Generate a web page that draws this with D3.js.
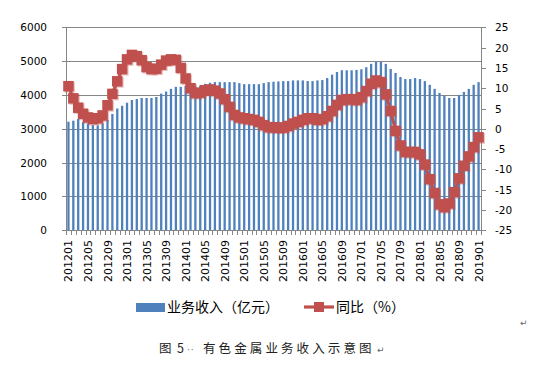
<!DOCTYPE html>
<html><head><meta charset="utf-8">
<script src="https://cdn.jsdelivr.net/npm/d3@7/dist/d3.min.js"></script>
<style>
html,body{margin:0;padding:0;background:#fff;}
svg{display:block;}
</style></head>
<body><svg id="c" width="540" height="366"></svg>
<script>
const categories = [
"201201","201202","201203","201204","201205","201206","201207","201208","201209","201210","201211","201212",
"201301","201302","201303","201304","201305","201306","201307","201308","201309","201310","201311","201312",
"201401","201402","201403","201404","201405","201406","201407","201408","201409","201410","201411","201412",
"201501","201502","201503","201504","201505","201506","201507","201508","201509","201510","201511","201512",
"201601","201602","201603","201604","201605","201606","201607","201608","201609","201610","201611","201612",
"201701","201702","201703","201704","201705","201706","201707","201708","201709","201710","201711","201712",
"201801","201802","201803","201804","201805","201806","201807","201808","201809","201810","201811","201812",
"201901"];
const revenue = [
3210,3240,3290,3200,3150,3110,3100,3160,3260,3440,3600,3680,
3770,3850,3880,3910,3910,3910,3940,4040,4100,4180,4240,4240,
4270,4250,4250,4280,4330,4360,4380,4380,4380,4380,4380,4350,
4320,4320,4320,4320,4350,4380,4390,4400,4410,4410,4430,4430,
4430,4410,4410,4430,4440,4500,4600,4680,4730,4730,4730,4740,
4760,4820,4920,4980,4980,4920,4770,4650,4530,4470,4470,4500,
4470,4410,4300,4180,4060,3970,3910,3910,4000,4090,4180,4300,
4380];
const yoy = [
10.5,7.5,5.2,3.7,2.8,2.4,2.6,3.3,5.8,8.6,11.7,14.7,
17.1,18.2,17.9,16.9,15.2,14.7,14.8,15.8,16.8,17.1,17.0,15.0,
12.4,10.0,8.8,8.9,9.5,9.7,9.4,8.7,7.3,5.4,3.4,2.8,
2.6,2.4,2.2,1.7,0.9,0.4,0.4,0.3,0.3,0.7,1.3,1.7,
2.2,2.6,2.6,2.2,2.4,3.1,4.4,5.9,7.1,7.3,7.3,7.1,
7.8,9.3,11.1,11.9,11.5,8.5,4.4,-0.5,-4.1,-5.7,-5.7,-5.7,
-6.3,-8.8,-12.4,-15.8,-18.6,-19.3,-18.4,-15.6,-12.2,-9.1,-6.8,-4.5,
-2.1];
const leftTicks = [0,1000,2000,3000,4000,5000,6000];
const rightTicks = [-25,-20,-15,-10,-5,0,5,10,15,20,25];
const legendLabels = ["业务收入（亿元）","同比（%）"];
const captionHead = "图";
const captionNum = "5";
const captionDots = "··";
const captionBody = "有色金属业务收入示意图";

const svg = d3.select("#c");
const L = 66, R = 481, T = 27.3, B = 230.3;
const grid = "#868686";
const x = d3.scaleBand().domain(categories).range([L, R]);
const yL = d3.scaleLinear().domain([0, 6000]).range([B, T]);
const yR = d3.scaleLinear().domain([-25, 25]).range([B, T]);

// gridlines
svg.append("g").selectAll("line").data(leftTicks).join("line")
  .attr("x1", L - 4).attr("x2", R)
  .attr("y1", d => Math.round(yL(d)) + 0.5).attr("y2", d => Math.round(yL(d)) + 0.5)
  .attr("stroke", grid).attr("stroke-width", 1);

// bars
const bw = 2.3;
svg.append("g").selectAll("rect").data(categories).join("rect")
  .attr("x", (d) => x(d) + x.bandwidth() / 2 - bw / 2)
  .attr("width", bw)
  .attr("y", (d, i) => yL(revenue[i]))
  .attr("height", (d, i) => B - yL(revenue[i]))
  .attr("fill", "#4F81BD");

// axes lines
svg.append("line").attr("x1", L + 0.5).attr("x2", L + 0.5).attr("y1", T).attr("y2", B + 0.5).attr("stroke", grid);
svg.append("line").attr("x1", R + 0.5).attr("x2", R + 0.5).attr("y1", T).attr("y2", B + 0.5).attr("stroke", grid);
svg.append("line").attr("x1", L).attr("x2", R).attr("y1", Math.round(B) + 0.5).attr("y2", Math.round(B) + 0.5).attr("stroke", grid);

// bottom ticks at band boundaries
const bounds = categories.map(c => x(c)).concat([R]);
svg.append("g").selectAll("line").data(bounds).join("line")
  .attr("x1", d => Math.round(d) + 0.5).attr("x2", d => Math.round(d) + 0.5)
  .attr("y1", Math.round(B)).attr("y2", Math.round(B) + 5)
  .attr("stroke", grid);

// right ticks
svg.append("g").selectAll("line").data(rightTicks).join("line")
  .attr("x1", R).attr("x2", R + 5)
  .attr("y1", d => Math.round(yR(d)) + 0.5).attr("y2", d => Math.round(yR(d)) + 0.5)
  .attr("stroke", grid);

// left labels
svg.append("g").selectAll("text").data(leftTicks).join("text")
  .attr("x", 47).attr("y", d => yL(d) + 4)
  .attr("text-anchor", "end")
  .attr("font-family", "DejaVu Sans").attr("font-size", 10.5).attr("fill", "#000")
  .text(d => d);

// right labels
svg.append("g").selectAll("text").data(rightTicks).join("text")
  .attr("x", 495).attr("y", d => yR(d) + 4)
  .attr("text-anchor", "start")
  .attr("font-family", "DejaVu Sans").attr("font-size", 10.5).attr("fill", "#000")
  .text(d => d);

// x labels
const xLabels = categories.filter((d, i) => i % 4 === 0);
svg.append("g").selectAll("text").data(xLabels).join("text")
  .attr("transform", d => `translate(${x(d) + x.bandwidth() / 2 + 4},240) rotate(-90)`)
  .attr("text-anchor", "end")
  .attr("font-family", "DejaVu Sans").attr("font-size", 11).attr("fill", "#000")
  .text(d => d);

// line
const red = "#C0504D";
const line = d3.line()
  .x((d, i) => x(categories[i]) + x.bandwidth() / 2)
  .y(d => yR(d));
svg.append("path").datum(yoy).attr("d", line)
  .attr("fill", "none").attr("stroke", red).attr("stroke-width", 3.2);
const ms = 10.5;
const mk = svg.append("g");
mk.selectAll("rect.s").data(yoy).join("rect").attr("class", "s")
  .attr("x", (d, i) => x(categories[i]) + x.bandwidth() / 2 - ms / 2 + 1.2)
  .attr("y", d => yR(d) - ms / 2 + 1.2)
  .attr("width", ms).attr("height", ms)
  .attr("fill", red).attr("opacity", 0.35);
mk.selectAll("rect.m").data(yoy).join("rect").attr("class", "m")
  .attr("x", (d, i) => x(categories[i]) + x.bandwidth() / 2 - ms / 2)
  .attr("y", d => yR(d) - ms / 2)
  .attr("width", ms).attr("height", ms)
  .attr("fill", red);

// legend
const lg = svg.append("g");
lg.append("rect").attr("x", 136).attr("y", 303).attr("width", 29).attr("height", 9).attr("fill", "#4F81BD");
lg.append("text").attr("x", 167).attr("y", 312)
  .attr("font-family", "Noto Sans CJK SC").attr("font-size", 14).attr("fill", "#000")
  .text(legendLabels[0]);
lg.append("line").attr("x1", 304).attr("x2", 334).attr("y1", 307).attr("y2", 307)
  .attr("stroke", red).attr("stroke-width", 3.2);
lg.append("rect").attr("x", 314).attr("y", 302).attr("width", 10).attr("height", 10).attr("fill", red);
lg.append("text").attr("x", 336).attr("y", 312)
  .attr("font-family", "Noto Sans CJK SC").attr("font-size", 14).attr("fill", "#000")
  .text(legendLabels[1]);

// caption
const cap = svg.append("text").attr("y", 353)
  .attr("font-family", "Noto Sans CJK SC").attr("font-size", 12.5).attr("fill", "#222");
cap.append("tspan").attr("x", 159).text(captionHead);
cap.append("tspan").attr("x", 177).text(captionNum);
cap.append("tspan").attr("x", 187).attr("font-family", "DejaVu Sans").attr("font-size", 9)
  .attr("letter-spacing", 1).attr("fill", "#666").text(captionDots);
cap.append("tspan").attr("x", 203).attr("letter-spacing", 3.1).text(captionBody);
svg.append("text").attr("x", 377).attr("y", 353)
  .attr("font-family", "DejaVu Sans").attr("font-size", 9).attr("fill", "#666").text("↵");
svg.append("text").attr("x", 520).attr("y", 326)
  .attr("font-family", "DejaVu Sans").attr("font-size", 9).attr("fill", "#666").text("↵");
</script></body></html>
